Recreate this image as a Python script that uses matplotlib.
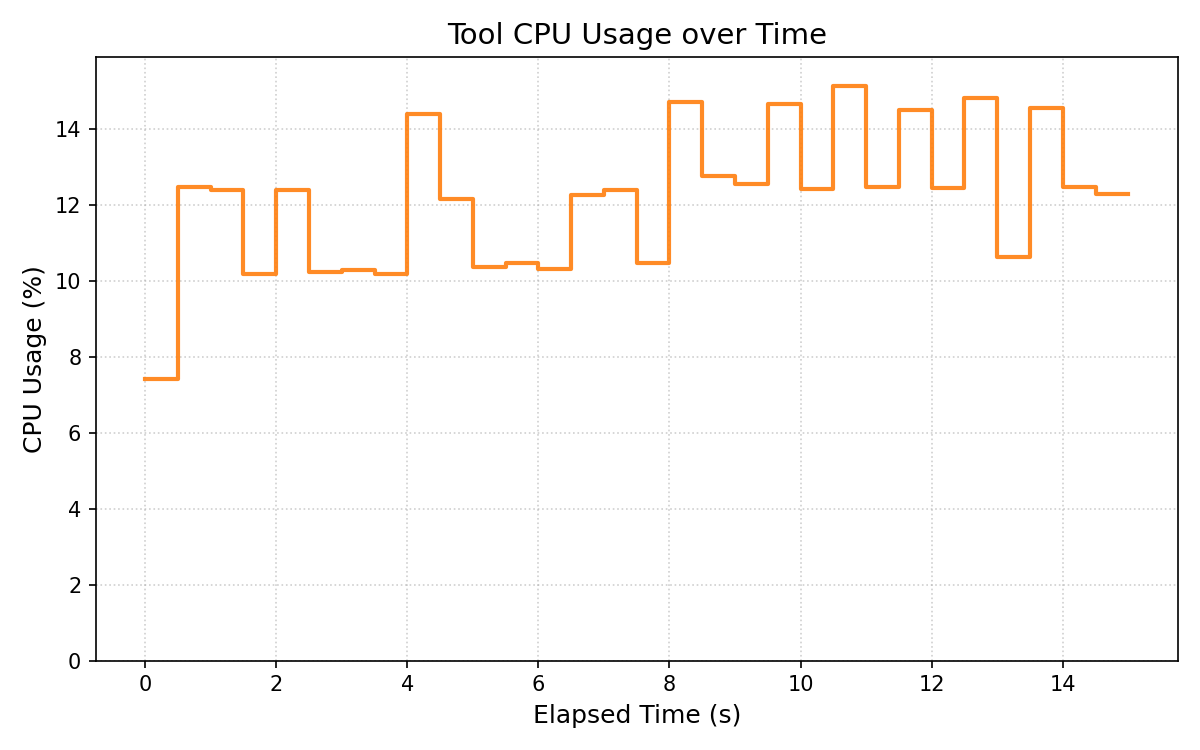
import numpy as np
import matplotlib
matplotlib.use('Agg')
import matplotlib.pyplot as plt

# ----------- data -----------------------------------------------------------
elapsed = [0.0, 0.5, 1.0, 1.5, 2.0, 2.5, 3.0, 3.5, 4.0, 4.5,
           5.0, 5.5, 6.0, 6.5, 7.0, 7.5, 8.0, 8.5, 9.0, 9.5,
           10.0, 10.5, 11.0, 11.5, 12.0, 12.5, 13.0, 13.5, 14.0, 14.5, 15.0]
cpu = [7.43, 12.47, 12.40, 10.18, 12.40, 10.23, 10.30, 10.20, 14.41, 12.16,
       10.36, 10.49, 10.33, 12.26, 12.40, 10.49, 14.71, 12.78, 12.55, 14.67,
       12.42, 15.15, 12.49, 14.51, 12.45, 14.83, 10.63, 14.56, 12.49, 12.31, 12.31]

# -------------- Plot Figure -------------------------------------------------
fig, ax = plt.subplots(figsize=(8, 5), dpi=150)
ax.step(elapsed, cpu, where='post', color='tab:orange', alpha=0.9, linewidth=2)
ax.set_title('Tool CPU Usage over Time', fontsize=14)
ax.set_xlabel('Elapsed Time (s)', fontsize=12)
ax.set_ylabel('CPU Usage (%)', fontsize=12)
ax.set_ylim(0, max(cpu) * 1.05)
ax.grid(True, linestyle=':', alpha=0.6)
fig.tight_layout()
fig.savefig('out.png')
